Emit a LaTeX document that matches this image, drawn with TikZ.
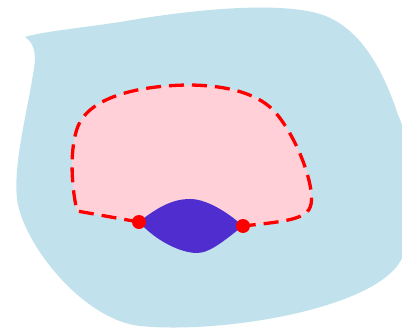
\documentclass[tikz,border=0pt]{standalone}
\usepackage{tikz}
\usetikzlibrary{calc}
\definecolor{domBlue}{RGB}{193, 226, 236}
\definecolor{regPink}{RGB}{255, 208, 216}
\definecolor{lensPurple}{RGB}{80, 45, 207}
\definecolor{bndRed}{RGB}{255, 0, 0}
\begin{document}
\begin{tikzpicture}[
                x=1pt, y=-1pt,
                outerdomain/.style={fill=domBlue},
                region/.style={fill=regPink},
                boundary/.style={draw=bndRed, line width=3.3pt, dash pattern=on 15pt off 8pt},
                lens/.style={fill=lensPurple},
                dot/.style={fill=bndRed}
            ]
                \useasboundingbox (0,0) rectangle (402,331);

                % --- OUTER DOMAIN ---
                \begin{scope}
                \clip (0,0) rectangle (402,331);
                \path[outerdomain] (25,37) .. controls (32,42) and (37,50) .. (34,68)
                    .. controls (28,110) and (11,170) .. (18,205)
                    .. controls (28,250) and (85,320) .. (140,326)
                    .. controls (220,334) and (370,310) .. (400,262)
                    .. controls (418,230) and (415,150) .. (398,115)
                    .. controls (380,60) and (355,25) .. (320,14)
                    .. controls (280,2) and (200,8) .. (120,22)
                    .. controls (80,28) and (40,32) .. (25,37) -- cycle;
                \end{scope}

                % --- POINTS ---
                \coordinate (leftdot) at (139,222);
                \coordinate (rightdot) at (243,226);
                \coordinate (lcorner) at (77,211);
                \coordinate (rcorner) at (304,214);

                % --- INNER REGION ---
                \path[region] (leftdot) -- (lcorner)
                    .. controls (70,180) and (70,140) .. (80,122)
                    .. controls (92,100) and (130,86) .. (187,85)
                    .. controls (230,85) and (260,95) .. (275,112)
                    .. controls (290,129) and (305,160) .. (310,185)
                    .. controls (313,200) and (312,210) .. (rcorner)
                    .. controls (295,221) and (270,223) .. (rightdot)
                    .. controls (225,210) and (205,199) .. (190,199)
                    .. controls (175,199) and (160,205) .. (leftdot) -- cycle;
                \draw[boundary] (leftdot) -- (lcorner)
                    .. controls (70,180) and (70,140) .. (80,122)
                    .. controls (92,100) and (130,86) .. (187,85)
                    .. controls (230,85) and (260,95) .. (275,112)
                    .. controls (290,129) and (305,160) .. (310,185)
                    .. controls (313,200) and (312,210) .. (rcorner)
                    .. controls (295,221) and (270,223) .. (rightdot);

                % --- LENS ---
                \path[lens] (leftdot) .. controls (160,205) and (175,199) .. (190,199)
                    .. controls (205,199) and (225,210) .. (rightdot)
                    .. controls (225,240) and (210,253) .. (197,253)
                    .. controls (180,253) and (155,240) .. (leftdot) -- cycle;

                \fill[dot] (leftdot) circle (7);
                \fill[dot] (rightdot) circle (7);

                \end{tikzpicture}
\end{document}
